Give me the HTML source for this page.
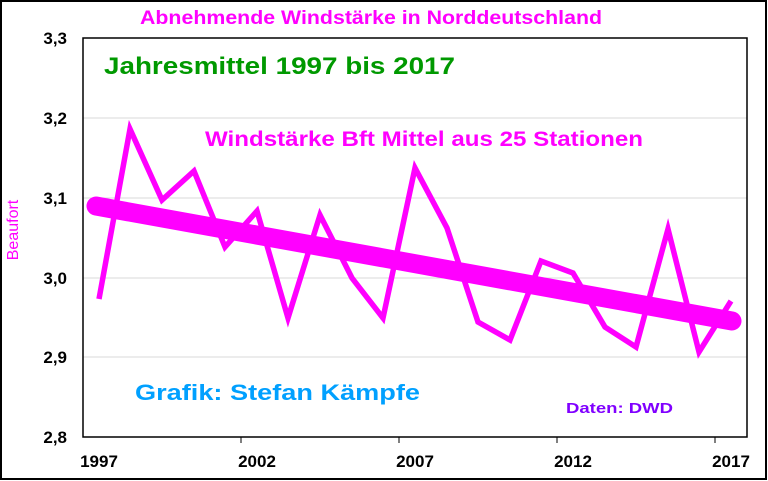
<!DOCTYPE html>
<html><head><style>body{margin:0;background:#fff}svg{display:block}</style></head><body>
<svg width="768" height="481" xmlns="http://www.w3.org/2000/svg" font-family="Liberation Sans, Arial, sans-serif" font-weight="bold">
<rect x="1" y="1" width="765" height="478" fill="#fff" stroke="#000" stroke-width="2"/>
<g stroke="#d9d9d9" stroke-width="1">
<line x1="83" y1="118" x2="747" y2="118"/><line x1="83" y1="198" x2="747" y2="198"/>
<line x1="83" y1="278" x2="747" y2="278"/><line x1="83" y1="357" x2="747" y2="357"/>
</g>
<rect x="83" y="38" width="664" height="399" fill="none" stroke="#000" stroke-width="1.5"/>
<g stroke="#000" stroke-width="1"><line x1="241" y1="437" x2="241" y2="443"/><line x1="399" y1="437" x2="399" y2="443"/><line x1="557" y1="437" x2="557" y2="443"/><line x1="715" y1="437" x2="715" y2="443"/></g>
<g font-size="17" text-anchor="end" fill="#000"><text x="67" y="44">3,3</text><text x="67" y="124">3,2</text><text x="67" y="204">3,1</text><text x="67" y="284">3,0</text><text x="67" y="363">2,9</text><text x="67" y="443">2,8</text></g>
<g font-size="17" text-anchor="middle" fill="#000"><text x="99" y="467">1997</text><text x="257" y="467">2002</text><text x="415" y="467">2007</text><text x="573" y="467">2012</text><text x="731" y="467">2017</text></g>
<text x="18" y="230" font-size="16" fill="#ff00ff" font-weight="normal" transform="rotate(-90 18 230)" text-anchor="middle">Beaufort</text>
<text x="140" y="24" font-size="19" fill="#ff00ff" textLength="462" lengthAdjust="spacingAndGlyphs">Abnehmende Windstärke in Norddeutschland</text>
<text x="104" y="74" font-size="24" fill="#009900" textLength="351" lengthAdjust="spacingAndGlyphs">Jahresmittel 1997 bis 2017</text>
<text x="205" y="146" font-size="21" fill="#ff00ff" textLength="438" lengthAdjust="spacingAndGlyphs">Windstärke Bft Mittel aus 25 Stationen</text>
<text x="135" y="400" font-size="22" fill="#00a0ff" textLength="285" lengthAdjust="spacingAndGlyphs">Grafik: Stefan Kämpfe</text>
<text x="566" y="413" font-size="15" fill="#8000ff" textLength="107" lengthAdjust="spacingAndGlyphs">Daten: DWD</text>
<line x1="96" y1="206" x2="732" y2="321" stroke="#ff00ff" stroke-width="19" stroke-linecap="round"/>
<polyline fill="none" stroke="#ff00ff" stroke-width="5.5" stroke-linejoin="miter" points="99,299 130,129 162,200 194,171 225,247 257,211 288,318 320,215 352,278 383,318 415,168 447,228 478,322 510,340 541,261 573,273 605,327 636,347 668,229 699,352 731,301"/>
</svg>
</body></html>
